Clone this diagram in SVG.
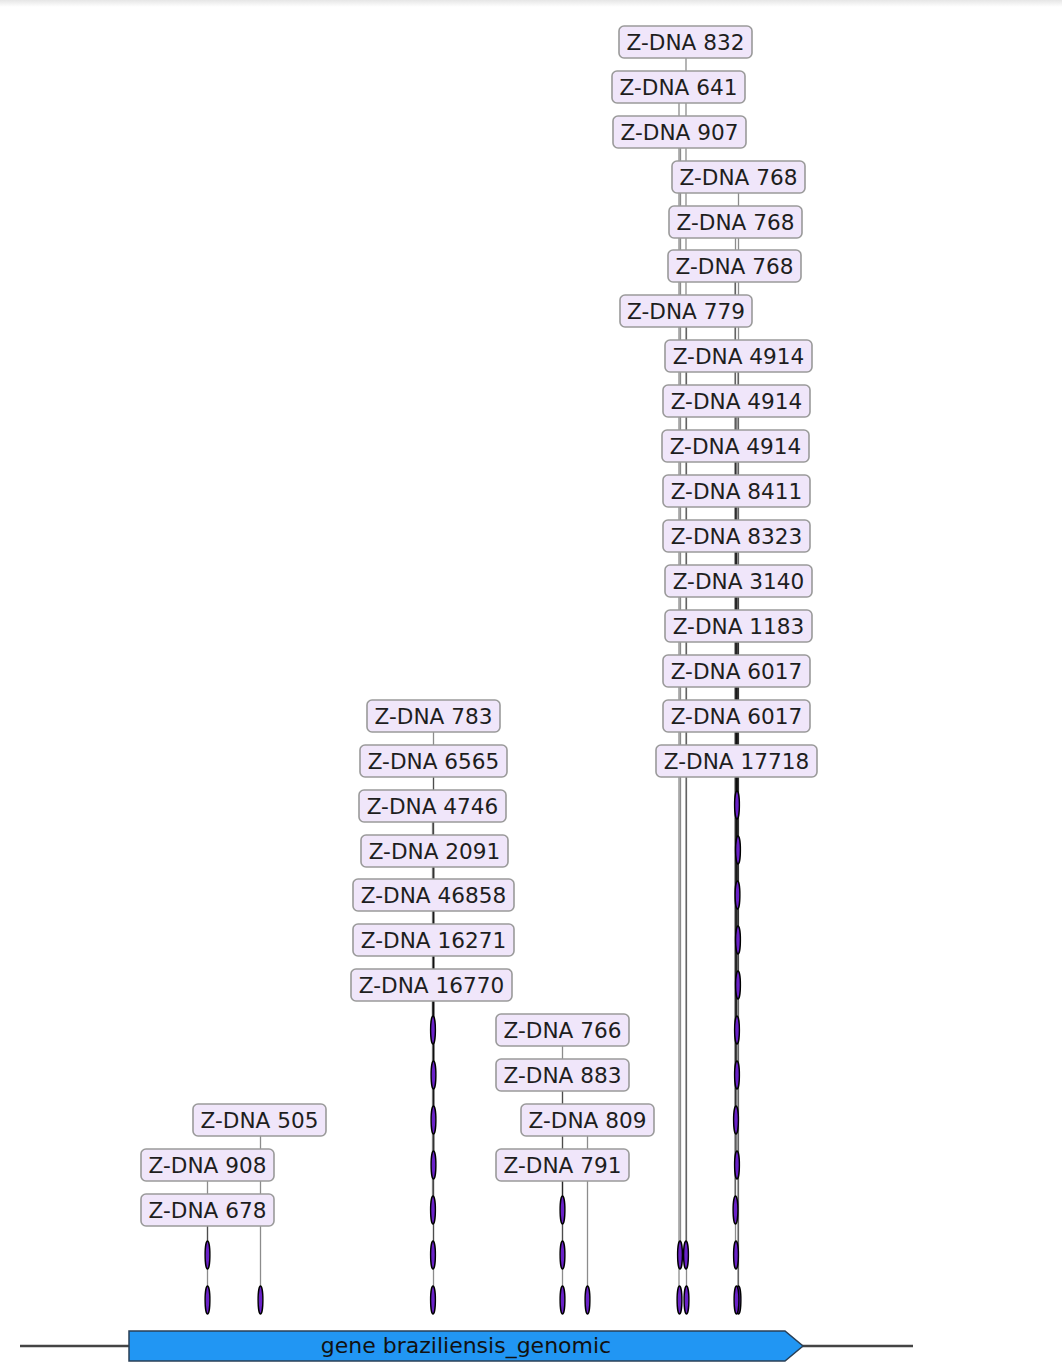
<svg xmlns="http://www.w3.org/2000/svg" xmlns:xlink="http://www.w3.org/1999/xlink" width="1062" height="1362" viewBox="0 0 1062 1362">
<style>
.lbl rect{fill:#f0e6fa;stroke:#9a9a9a;stroke-width:1.6}
.lbl text{font-family:"DejaVu Sans",sans-serif;font-size:21.6px;fill:#1e1e1e;text-anchor:middle}
.cn line{stroke:#000;stroke-opacity:0.45;stroke-width:1.3}
.ft{fill:#6a22c8;stroke:#000;stroke-width:1.4}
</style>
<defs>
<linearGradient id="sh" x1="0" y1="0" x2="0" y2="1"><stop offset="0" stop-color="#e6e6e6"/><stop offset="1" stop-color="#ffffff"/></linearGradient>
<ellipse id="f" cx="0" cy="0" rx="2.4" ry="14" class="ft"/>
</defs>
<rect x="0" y="0" width="1062" height="1362" fill="#fff"/>
<rect x="0" y="0" width="1062" height="7" fill="url(#sh)"/>
<g id="backbone">
<line x1="20" y1="1346" x2="913" y2="1346" stroke="#444" stroke-width="2.5"/>
</g>
<g id="gene">
<polygon points="129,1331 785,1331 803,1346 785,1361 129,1361" fill="#2196f3" stroke="#2a3f55" stroke-width="1.5"/>
<text x="466" y="1353" font-family="DejaVu Sans,sans-serif" font-size="22" fill="#111" text-anchor="middle">gene braziliensis_genomic</text>
</g>
<g id="connectors" class="cn">
<line x1="207.5" y1="1165" x2="207.5" y2="1300"/>
<line x1="207.5" y1="1210" x2="207.5" y2="1255"/>
<line x1="260.5" y1="1120" x2="260.5" y2="1300"/>
<line x1="433.5" y1="716" x2="433.5" y2="1300"/>
<line x1="433.5" y1="761" x2="433.5" y2="1255"/>
<line x1="432.5" y1="806" x2="432.5" y2="1210"/>
<line x1="434" y1="851" x2="434" y2="1165"/>
<line x1="433.5" y1="895" x2="433.5" y2="1120"/>
<line x1="433.5" y1="940" x2="433.5" y2="1075"/>
<line x1="432.5" y1="985" x2="432.5" y2="1030"/>
<line x1="562.5" y1="1030" x2="562.5" y2="1300"/>
<line x1="562.5" y1="1075" x2="562.5" y2="1255"/>
<line x1="562.5" y1="1165" x2="562.5" y2="1210"/>
<line x1="587.5" y1="1120" x2="587.5" y2="1300"/>
<line x1="686" y1="42" x2="686" y2="1255"/>
<line x1="679" y1="87" x2="679" y2="1300"/>
<line x1="680.5" y1="132" x2="680.5" y2="1255"/>
<line x1="686.5" y1="311" x2="686.5" y2="1300"/>
<line x1="738.5" y1="177" x2="738.5" y2="1300"/>
<line x1="735.5" y1="222" x2="735.5" y2="1255"/>
<line x1="735" y1="266" x2="735" y2="1210"/>
<line x1="738" y1="356" x2="738" y2="1300"/>
<line x1="736.5" y1="401" x2="736.5" y2="1165"/>
<line x1="735.5" y1="446" x2="735.5" y2="1120"/>
<line x1="736.5" y1="491" x2="736.5" y2="1075"/>
<line x1="736.5" y1="536" x2="736.5" y2="1030"/>
<line x1="738" y1="581" x2="738" y2="985"/>
<line x1="738" y1="626" x2="738" y2="940"/>
<line x1="737" y1="671" x2="737" y2="895"/>
<line x1="737" y1="716" x2="737" y2="850"/>
<line x1="737" y1="761" x2="737" y2="805"/>
</g>
<g id="features">
<use xlink:href="#f" x="207.5" y="1300"/>
<use xlink:href="#f" x="207.5" y="1255"/>
<use xlink:href="#f" x="260.5" y="1300"/>
<use xlink:href="#f" x="433" y="1300"/>
<use xlink:href="#f" x="433" y="1255"/>
<use xlink:href="#f" x="433" y="1210"/>
<use xlink:href="#f" x="433.5" y="1165"/>
<use xlink:href="#f" x="433.5" y="1120"/>
<use xlink:href="#f" x="433.5" y="1075"/>
<use xlink:href="#f" x="433" y="1030"/>
<use xlink:href="#f" x="562.5" y="1300"/>
<use xlink:href="#f" x="562.5" y="1255"/>
<use xlink:href="#f" x="562.5" y="1210"/>
<use xlink:href="#f" x="587.5" y="1300"/>
<use xlink:href="#f" x="679.5" y="1300"/>
<use xlink:href="#f" x="680" y="1255"/>
<use xlink:href="#f" x="686.5" y="1300"/>
<use xlink:href="#f" x="686" y="1255"/>
<use xlink:href="#f" x="738.5" y="1300"/>
<use xlink:href="#f" x="736.5" y="1300"/>
<use xlink:href="#f" x="736" y="1255"/>
<use xlink:href="#f" x="735.5" y="1210"/>
<use xlink:href="#f" x="737" y="1165"/>
<use xlink:href="#f" x="736" y="1120"/>
<use xlink:href="#f" x="737" y="1075"/>
<use xlink:href="#f" x="737" y="1030"/>
<use xlink:href="#f" x="738" y="985"/>
<use xlink:href="#f" x="738" y="940"/>
<use xlink:href="#f" x="737.5" y="895"/>
<use xlink:href="#f" x="738" y="850"/>
<use xlink:href="#f" x="737" y="805"/>
</g>
<g id="labels">
<g id="n832" class="lbl"><rect x="619" y="26" width="133" height="32" rx="5"/><text x="685.5" y="49.5">Z-DNA 832</text></g>
<g id="n641" class="lbl"><rect x="612" y="71" width="133" height="32" rx="5"/><text x="678.5" y="94.5">Z-DNA 641</text></g>
<g id="n907" class="lbl"><rect x="613" y="116" width="133" height="32" rx="5"/><text x="679.5" y="139.5">Z-DNA 907</text></g>
<g id="n768a" class="lbl"><rect x="672" y="161" width="133" height="32" rx="5"/><text x="738.5" y="184.5">Z-DNA 768</text></g>
<g id="n768b" class="lbl"><rect x="669" y="206" width="133" height="32" rx="5"/><text x="735.5" y="229.5">Z-DNA 768</text></g>
<g id="n768c" class="lbl"><rect x="668" y="250" width="133" height="32" rx="5"/><text x="734.5" y="273.5">Z-DNA 768</text></g>
<g id="n779" class="lbl"><rect x="620" y="295" width="132" height="32" rx="5"/><text x="686" y="318.5">Z-DNA 779</text></g>
<g id="n4914a" class="lbl"><rect x="665" y="340" width="147" height="32" rx="5"/><text x="738.5" y="363.5">Z-DNA 4914</text></g>
<g id="n4914b" class="lbl"><rect x="663" y="385" width="147" height="32" rx="5"/><text x="736.5" y="408.5">Z-DNA 4914</text></g>
<g id="n4914c" class="lbl"><rect x="662" y="430" width="147" height="32" rx="5"/><text x="735.5" y="453.5">Z-DNA 4914</text></g>
<g id="n8411" class="lbl"><rect x="663" y="475" width="147" height="32" rx="5"/><text x="736.5" y="498.5">Z-DNA 8411</text></g>
<g id="n8323" class="lbl"><rect x="663" y="520" width="147" height="32" rx="5"/><text x="736.5" y="543.5">Z-DNA 8323</text></g>
<g id="n3140" class="lbl"><rect x="665" y="565" width="147" height="32" rx="5"/><text x="738.5" y="588.5">Z-DNA 3140</text></g>
<g id="n1183" class="lbl"><rect x="665" y="610" width="147" height="32" rx="5"/><text x="738.5" y="633.5">Z-DNA 1183</text></g>
<g id="n6017a" class="lbl"><rect x="663" y="655" width="147" height="32" rx="5"/><text x="736.5" y="678.5">Z-DNA 6017</text></g>
<g id="n6017b" class="lbl"><rect x="663" y="700" width="147" height="32" rx="5"/><text x="736.5" y="723.5">Z-DNA 6017</text></g>
<g id="n17718" class="lbl"><rect x="656" y="745" width="161" height="32" rx="5"/><text x="736.5" y="768.5">Z-DNA 17718</text></g>
<g id="n783" class="lbl"><rect x="367" y="700" width="133" height="32" rx="5"/><text x="433.5" y="723.5">Z-DNA 783</text></g>
<g id="n6565" class="lbl"><rect x="360" y="745" width="147" height="32" rx="5"/><text x="433.5" y="768.5">Z-DNA 6565</text></g>
<g id="n4746" class="lbl"><rect x="359" y="790" width="147" height="32" rx="5"/><text x="432.5" y="813.5">Z-DNA 4746</text></g>
<g id="n2091" class="lbl"><rect x="361" y="835" width="147" height="32" rx="5"/><text x="434.5" y="858.5">Z-DNA 2091</text></g>
<g id="n46858" class="lbl"><rect x="353" y="879" width="161" height="32" rx="5"/><text x="433.5" y="902.5">Z-DNA 46858</text></g>
<g id="n16271" class="lbl"><rect x="353" y="924" width="161" height="32" rx="5"/><text x="433.5" y="947.5">Z-DNA 16271</text></g>
<g id="n16770" class="lbl"><rect x="351" y="969" width="161" height="32" rx="5"/><text x="431.5" y="992.5">Z-DNA 16770</text></g>
<g id="n766" class="lbl"><rect x="496" y="1014" width="133" height="32" rx="5"/><text x="562.5" y="1037.5">Z-DNA 766</text></g>
<g id="n883" class="lbl"><rect x="496" y="1059" width="133" height="32" rx="5"/><text x="562.5" y="1082.5">Z-DNA 883</text></g>
<g id="n809" class="lbl"><rect x="521" y="1104" width="133" height="32" rx="5"/><text x="587.5" y="1127.5">Z-DNA 809</text></g>
<g id="n791" class="lbl"><rect x="496" y="1149" width="133" height="32" rx="5"/><text x="562.5" y="1172.5">Z-DNA 791</text></g>
<g id="n505" class="lbl"><rect x="193" y="1104" width="133" height="32" rx="5"/><text x="259.5" y="1127.5">Z-DNA 505</text></g>
<g id="n908" class="lbl"><rect x="141" y="1149" width="133" height="32" rx="5"/><text x="207.5" y="1172.5">Z-DNA 908</text></g>
<g id="n678" class="lbl"><rect x="141" y="1194" width="133" height="32" rx="5"/><text x="207.5" y="1217.5">Z-DNA 678</text></g>
</g>
</svg>
